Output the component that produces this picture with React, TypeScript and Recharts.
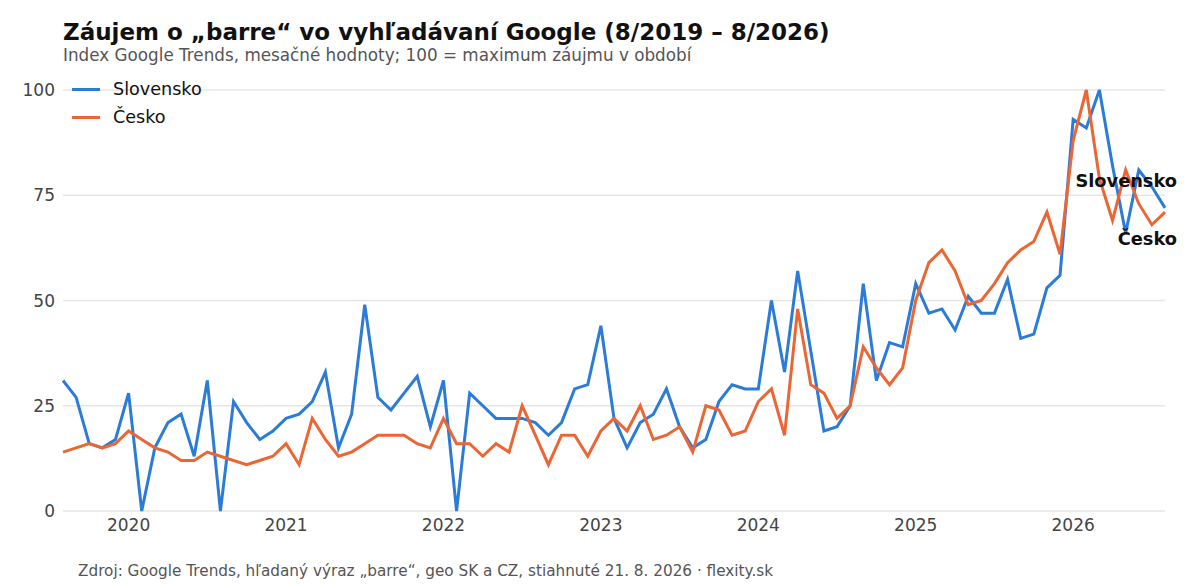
import React from "react"
import { Line, LineChart, CartesianGrid, XAxis, YAxis } from "recharts"

// mesačné hodnoty 8/2019 – 8/2026 (85 mesiacov)
const slovensko = [
  31, 27, 16, 15, 17, 28, 0, 15, 21, 23, 13, 31, 0, 26, 21, 17, 19, 22, 23, 26,
  33, 15, 23, 49, 27, 24, 28, 32, 20, 31, 0, 28, 25, 22, 22, 22, 21, 18, 21, 29,
  30, 44, 22, 15, 21, 23, 29, 20, 15, 17, 26, 30, 29, 29, 50, 33, 57, 38, 19, 20,
  25, 54, 31, 40, 39, 54, 47, 48, 43, 51, 47, 47, 55, 41, 42, 53, 56, 93, 91, 100,
  82, 66, 81, 77, 72,
]

const cesko = [
  14, 15, 16, 15, 16, 19, 17, 15, 14, 12, 12, 14, 13, 12, 11, 12, 13, 16, 11, 22,
  17, 13, 14, 16, 18, 18, 18, 16, 15, 22, 16, 16, 13, 16, 14, 25, 18, 11, 18, 18,
  13, 19, 22, 19, 25, 17, 18, 20, 14, 25, 24, 18, 19, 26, 29, 18, 48, 30, 28, 22,
  25, 39, 34, 30, 34, 50, 59, 62, 57, 49, 50, 54, 59, 62, 64, 71, 61, 88, 100, 79,
  69, 81, 73, 68, 71,
]

const years = [2020, 2021, 2022, 2023, 2024, 2025, 2026]
const yTicks = [0, 25, 50, 75, 100]

const BLUE = "#2b7bd8"
const ORANGE = "#eb6634"
const FONT = "DejaVu Sans, sans-serif"

// január daného roka = index od 8/2019
const yearTick = (y: number) => (y - 2020) * 12 + 5
const data = slovensko.map((v, i) => ({ t: i, sk: v, cz: cesko[i] }))
const last = data.length - 1

const series = [
  { key: "sk", name: "Slovensko", color: BLUE, dy: -26 },
  { key: "cz", name: "Česko", color: ORANGE, dy: 28 },
]

function endLabel(name: string, dy: number) {
  return (props: any) => {
    if (props.index !== last) return null
    return (
      <text
        x={props.x + 12}
        y={props.y + dy}
        textAnchor="end"
        dominantBaseline="middle"
        fontFamily={FONT}
        fontSize={17.8}
        fontWeight="bold"
        fill="#111"
      >
        {name}
      </text>
    )
  }
}

export default function App() {
  return (
    <div style={{ position: "absolute", left: 0, top: 0, width: 1200, height: 585, background: "#fff", fontFamily: FONT }}>
      <div style={{ position: "absolute", left: 63, top: 19, fontSize: 23, fontWeight: "bold", color: "#111", whiteSpace: "nowrap" }}>
        Záujem o „barre“ vo vyhľadávaní Google (8/2019 – 8/2026)
      </div>
      <div style={{ position: "absolute", left: 63, top: 45, fontSize: 16.8, color: "#555", whiteSpace: "nowrap" }}>
        Index Google Trends, mesačné hodnoty; 100 = maximum záujmu v období
      </div>
      <LineChart width={1200} height={585} data={data} margin={{ top: 90, right: 35, bottom: 44, left: 0 }}>
        <CartesianGrid horizontal vertical={false} stroke="#e6e6e6" strokeWidth={1.5} />
        <XAxis
          dataKey="t"
          type="number"
          domain={[0, last]}
          ticks={years.map(yearTick)}
          tickFormatter={(v: number) => String(2020 + Math.round((v - 5) / 12))}
          height={30}
          axisLine={false}
          tickLine={false}
          tickMargin={2}
          tick={{ fill: "#444", fontSize: 17, fontFamily: FONT }}
        />
        <YAxis
          type="number"
          domain={[0, 100]}
          ticks={yTicks}
          width={63}
          axisLine={false}
          tickLine={false}
          tick={{ fill: "#444", fontSize: 17, fontFamily: FONT }}
        />
        {series.map((s) => (
          <Line
            key={s.key}
            dataKey={s.key}
            name={s.name}
            type="linear"
            stroke={s.color}
            strokeWidth={3}
            dot={false}
            label={endLabel(s.name, s.dy)}
            isAnimationActive={false}
          />
        ))}
      </LineChart>
      <div style={{ position: "absolute", left: 72, top: 75, fontSize: 17.6, color: "#111" }}>
        {series.map((s) => (
          <div key={s.key} style={{ display: "flex", alignItems: "center", height: 28 }}>
            <span style={{ display: "inline-block", width: 28, height: 3, background: s.color, marginRight: 13 }} />
            {s.name}
          </div>
        ))}
      </div>
      <div style={{ position: "absolute", left: 78, top: 562, fontSize: 15.25, color: "#555", whiteSpace: "nowrap" }}>
        Zdroj: Google Trends, hľadaný výraz „barre“, geo SK a CZ, stiahnuté 21. 8. 2026 · flexity.sk
      </div>
    </div>
  )
}
